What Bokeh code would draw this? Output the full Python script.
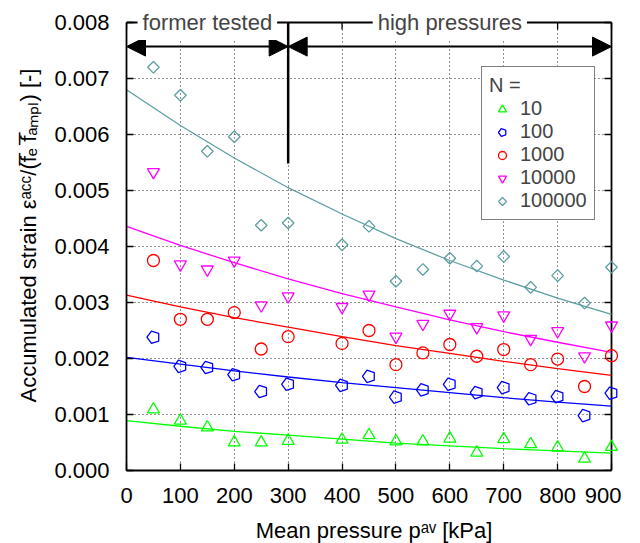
import numpy as np
from bokeh.plotting import figure
from bokeh.models import (Range1d, FixedTicker, PrintfTickFormatter, Label,
                          Arrow, NormalHead, Legend, LegendItem, BoxAnnotation)
from bokeh.embed import file_html
from bokeh.resources import INLINE

# ---------------- data (strain values in units of 1e-3) ----------------
pressure = [50, 100, 150, 200, 250, 300, 400, 450, 500, 550, 600, 650, 700, 750, 800, 850, 900]
n10 = [1.09, 0.89, 0.77, 0.50, 0.50, 0.53, 0.55, 0.63, 0.52, 0.52, 0.57, 0.32, 0.56, 0.47, 0.41, 0.21, 0.42]
n100 = [2.38, 1.86, 1.84, 1.71, 1.41, 1.54, 1.52, 1.68, 1.31, 1.44, 1.54, 1.39, 1.48, 1.28, 1.32, 0.98, 1.38]
n1000 = [3.75, 2.70, 2.70, 2.82, 2.17, 2.39, 2.27, 2.50, 1.89, 2.10, 2.25, 2.04, 2.16, 1.89, 1.99, 1.50, 2.05]
n10000 = [5.33, 3.68, 3.59, 3.75, 2.95, 3.11, 2.92, 3.14, 2.39, 2.62, 2.80, 2.56, 2.77, 2.35, 2.49, 2.04, 2.59]
n100000 = [7.20, 6.70, 5.70, 5.96, 4.38, 4.42, 4.03, 4.36, 3.38, 3.59, 3.79, 3.65, 3.82, 3.27, 3.48, 2.99, 3.63]

fit_p = [0, 100, 200, 300, 400, 500, 600, 700, 800, 900]
fit10 = [0.89, 0.79, 0.70, 0.63, 0.56, 0.49, 0.44, 0.39, 0.35, 0.31]
fit100 = [2.02, 1.90, 1.78, 1.67, 1.57, 1.48, 1.39, 1.30, 1.22, 1.15]
fit1000 = [3.13, 2.92, 2.73, 2.56, 2.39, 2.23, 2.09, 1.95, 1.82, 1.70]
fit10000 = [4.36, 4.02, 3.71, 3.42, 3.16, 2.92, 2.69, 2.48, 2.29, 2.11]
fit100000 = [6.80, 6.16, 5.58, 5.05, 4.58, 4.14, 3.75, 3.40, 3.08, 2.79]

series_labels = ["10", "100", "1000", "10000", "100000"]
x_ticks = [0, 100, 200, 300, 400, 500, 600, 700, 800, 900]
y_ticks = [0.000, 0.001, 0.002, 0.003, 0.004, 0.005, 0.006, 0.007, 0.008]
SCALE = 1e-3

X_MAX = 900
Y_MAX = 0.008
DIVIDER_P = 300
ARROW_Y = 0.00757
DIVIDER_BOTTOM = 0.00548

FONT = "Liberation Sans"
FS = "22px"

# ---------------- geometry ----------------
PLOT_W, PLOT_H = 485, 448          # pixel size of the boxed plotting area
EXTRA_R, EXTRA_T = 10, 22           # room so edge markers / top texts are not clipped
px_x = PLOT_W / X_MAX
px_y = PLOT_H / Y_MAX
x_end = X_MAX + EXTRA_R / px_x
y_end = Y_MAX + EXTRA_T / px_y
TICK_PX = 7

p = figure(frame_width=PLOT_W + EXTRA_R, frame_height=PLOT_H + EXTRA_T,
           x_range=Range1d(0, x_end), y_range=Range1d(0, y_end),
           output_backend="svg", toolbar_location=None,
           min_border_left=126, min_border_right=0, min_border_top=0, min_border_bottom=73,
           background_fill_color="white", border_fill_color="white")
p.outline_line_color = None

xt = FixedTicker(ticks=x_ticks)
yt = FixedTicker(ticks=y_ticks)

for ax in (p.xaxis[0], p.yaxis[0]):
    ax.major_tick_in = TICK_PX
    ax.major_tick_out = 0
    ax.minor_tick_in = 0
    ax.minor_tick_out = 0
    ax.axis_line_width = 1.8
    ax.major_tick_line_width = 1.3
    ax.major_label_text_font = FONT
    ax.major_label_text_font_size = FS
    ax.major_label_text_color = "black"
    ax.axis_label_text_font = FONT
    ax.axis_label_text_font_size = FS
    ax.axis_label_text_font_style = "normal"
    ax.axis_label_text_color = "black"
p.xaxis[0].ticker = xt
p.yaxis[0].ticker = yt
p.xaxis[0].bounds = (0, X_MAX)
p.yaxis[0].bounds = (0, Y_MAX)
p.yaxis[0].formatter = PrintfTickFormatter(format="%.3f")
p.yaxis[0].major_label_standoff = 17
p.xaxis[0].major_label_standoff = 17
p.xaxis[0].axis_label = "Mean pressure p\u1d43\u1d5b [kPa]"
p.xaxis[0].axis_label_standoff = 12
p.yaxis[0].axis_label = "Accumulated strain \u03b5\u1d43\u1d9c\u1d9c/(f\u0305\u2091 f\u0305\u2090\u2098\u209a\u2097) [-]"
p.yaxis[0].axis_label_standoff = 10

p.xgrid.ticker = xt
p.ygrid.ticker = yt
for g in (p.xgrid, p.ygrid):
    g.grid_line_color = "black"
    g.grid_line_alpha = 0.85
    g.grid_line_dash = "1 3"
    g.grid_line_width = 1

# white-out the grid outside the boxed area (drawn under the glyphs)
p.add_layout(BoxAnnotation(bottom=Y_MAX, fill_color="white", fill_alpha=1, line_color=None, level="underlay"))
p.add_layout(BoxAnnotation(left=X_MAX, fill_color="white", fill_alpha=1, line_color=None, level="underlay"))

# right and top border with inward ticks
p.segment(x0=[X_MAX], y0=[0], x1=[X_MAX], y1=[Y_MAX], line_color="black", line_width=1.8)
p.segment(x0=[0], y0=[Y_MAX], x1=[X_MAX], y1=[Y_MAX], line_color="black", line_width=1.8)
p.segment(x0=[X_MAX] * len(y_ticks), y0=y_ticks, x1=[X_MAX - TICK_PX / px_x] * len(y_ticks), y1=y_ticks,
          line_color="black", line_width=1.3)
p.segment(x0=x_ticks, y0=[Y_MAX] * len(x_ticks), x1=x_ticks, y1=[Y_MAX - TICK_PX / px_y] * len(x_ticks),
          line_color="black", line_width=1.3)

colors = ["#00ff00", "#0000ff", "#ff0000", "#ff00ff", "#5f9ea0"]
fits = [fit10, fit100, fit1000, fit10000, fit100000]
for c, f in zip(colors, fits):
    p.line(fit_p, list(np.array(f) * SCALE), line_color=c, line_width=1.3)

renderers = []
renderers.append(p.scatter(pressure, list(np.array(n10) * SCALE), marker="triangle", size=12,
                           fill_color=None, line_color=colors[0], line_width=1.3))
renderers.append(p.ngon(pressure, list(np.array(n100) * SCALE), radius=6.5, radius_units="screen", n=5,
                        angle=np.pi / 2, fill_color=None, line_color=colors[1], line_width=1.3))
renderers.append(p.scatter(pressure, list(np.array(n1000) * SCALE), marker="circle", size=12,
                           fill_color=None, line_color=colors[2], line_width=1.3))
renderers.append(p.scatter(pressure, list(np.array(n10000) * SCALE), marker="inverted_triangle", size=12,
                           fill_color=None, line_color=colors[3], line_width=1.3))
renderers.append(p.ngon(pressure, list(np.array(n100000) * SCALE), radius=5.8, radius_units="screen", n=4,
                        angle=0, fill_color=None, line_color=colors[4], line_width=1.3))

# divider and arrows
p.segment(x0=[DIVIDER_P], y0=[DIVIDER_BOTTOM], x1=[DIVIDER_P], y1=[Y_MAX],
          line_color="black", line_width=2.5)
for xs, xe in ((0, DIVIDER_P), (DIVIDER_P, X_MAX)):
    p.add_layout(Arrow(x_start=xs, y_start=ARROW_Y, x_end=xe, y_end=ARROW_Y, line_width=2,
                       line_color="black",
                       start=NormalHead(size=19, fill_color="black", line_color="black", line_width=1),
                       end=NormalHead(size=19, fill_color="black", line_color="black", line_width=1)))

for txt, xc in (("former tested", 150), ("high pressures", 600)):
    p.add_layout(Label(x=xc, y=Y_MAX, text=txt, text_align="center", text_baseline="middle",
                       text_font=FONT, text_font_size=FS, background_fill_color="white",
                       padding=5))

# legend
legend = Legend(items=[LegendItem(label=l, renderers=[rr]) for l, rr in zip(series_labels, renderers)],
                location=(355, 250), title="N =",
                title_text_font=FONT, title_text_font_size="20px", title_text_font_style="normal",
                label_text_font=FONT, label_text_font_size="20px",
                border_line_color="black", border_line_width=1.3,
                background_fill_color="white", background_fill_alpha=1.0,
                padding=7, spacing=0, margin=0, glyph_width=26, glyph_height=20,
                label_height=20, label_standoff=5, title_standoff=0)
p.add_layout(legend)

open("out.html", "w").write(file_html(p, INLINE))
